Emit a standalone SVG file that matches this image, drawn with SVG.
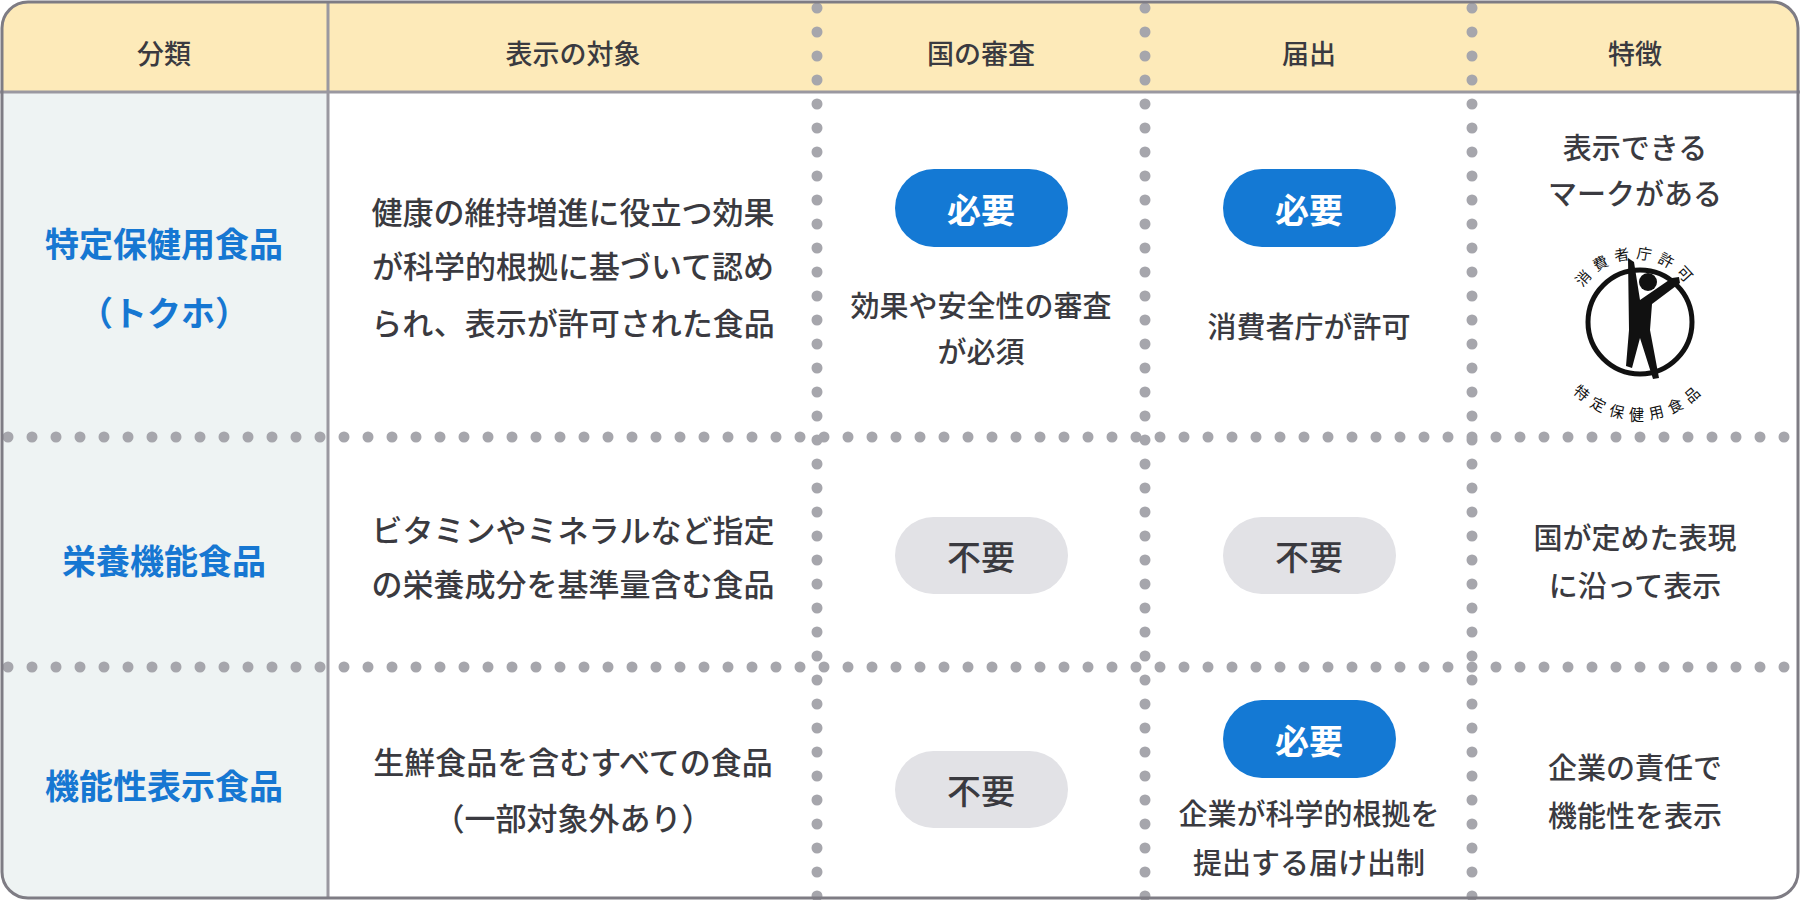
<svg xmlns="http://www.w3.org/2000/svg" width="1800" height="900" viewBox="0 0 1800 900">
<style>
text{font-family:"Noto Sans CJK JP","Noto Sans",sans-serif;text-anchor:middle;dominant-baseline:central;fill:#3a3a40}
.h{font-size:27px;font-weight:500}
.c{font-size:31px;font-weight:500}
.s{font-size:29px;font-weight:500}
.n{font-size:34px;font-weight:700;fill:#1677d2}
.pb{fill:#1479d4}.pg{fill:#e2e2e6}
.pt{font-size:34px;font-weight:700;fill:#fff}
.gt{font-size:34px;font-weight:500;fill:#3a3a40}
.dot{stroke:#a6a6ac;stroke-width:11;stroke-linecap:round;stroke-dasharray:0 24;fill:none}
.lg{font-size:15px;fill:#111;dominant-baseline:auto}
</style>
<defs>
<clipPath id="clip"><rect x="2" y="2" width="1796" height="896" rx="26"/></clipPath>
<path id="arcTop" d="M1573,322 A63,63 0 0 1 1699,322"/>
<path id="arcBot" d="M1562,330 A76,76 0 0 0 1714,330"/>
</defs>
<g clip-path="url(#clip)">
<rect x="0" y="0" width="1800" height="900" fill="#fff"/>
<rect x="0" y="0" width="1800" height="92" fill="#fdeab9"/>
<rect x="0" y="92" width="328" height="808" fill="#eef3f3"/>
</g>
<g id="connectors">
<line x1="0" y1="92" x2="1800" y2="92" stroke="#9a98a0" stroke-width="3"/>
<line x1="328" y1="2" x2="328" y2="898" stroke="#9a98a0" stroke-width="3"/>
<line class="dot" x1="817" y1="8" x2="817" y2="898"/>
<line class="dot" x1="1145" y1="8" x2="1145" y2="898"/>
<line class="dot" x1="1472" y1="8" x2="1472" y2="898"/>
<line class="dot" x1="8" y1="437" x2="1800" y2="437"/>
<line class="dot" x1="8" y1="667" x2="1800" y2="667"/>
</g>
<rect x="2" y="2" width="1796" height="896" rx="26" fill="none" stroke="#7e7c84" stroke-width="3"/>
<g id="header">
<text class="h" x="164" y="52">分類</text>
<text class="h" x="573" y="52">表示の対象</text>
<text class="h" x="981" y="52">国の審査</text>
<text class="h" x="1309" y="52">届出</text>
<text class="h" x="1635" y="52">特徴</text>
</g>
<g id="row1">
<text class="n" x="164" y="242">特定保健用食品</text>
<text class="n" x="164" y="311">（トクホ）</text>
<text class="c" x="573" y="210">健康の維持増進に役立つ効果</text>
<text class="c" x="573" y="264">が科学的根拠に基づいて認め</text>
<text class="c" x="573" y="321">られ、表示が許可された食品</text>
<rect class="pb" x="895" y="169" width="173" height="78" rx="39"/>
<text class="pt" x="981" y="208">必要</text>
<text class="s" x="981" y="304">効果や安全性の審査</text>
<text class="s" x="981" y="350">が必須</text>
<rect class="pb" x="1223" y="169" width="173" height="78" rx="39"/>
<text class="pt" x="1309" y="208">必要</text>
<text class="s" x="1309" y="325">消費者庁が許可</text>
<text class="s" x="1635" y="146">表示できる</text>
<text class="s" x="1635" y="192">マークがある</text>
<g id="logo">
<circle cx="1640" cy="322" r="52" fill="none" stroke="#111" stroke-width="5"/>
<text class="lg"><textPath href="#arcTop" startOffset="50%" text-anchor="middle" letter-spacing="6">消費者庁許可</textPath></text>
<text class="lg" style="dominant-baseline:hanging"><textPath href="#arcBot" startOffset="50%" text-anchor="middle" letter-spacing="3">特定保健用食品</textPath></text>
<circle cx="1648" cy="282" r="9" fill="#111"/>
<path d="M1628,258 L1634,262 L1640,300 L1672,278 L1679,277 L1680,283 L1652,304 L1650,330 L1659,378 L1653,379 L1640,338 L1632,368 L1626,366 L1629,330 Z" fill="#111"/>
</g>
</g>
<g id="row2">
<text class="n" x="164" y="559">栄養機能食品</text>
<text class="c" x="573" y="528">ビタミンやミネラルなど指定</text>
<text class="c" x="573" y="582">の栄養成分を基準量含む食品</text>
<rect class="pg" x="895" y="517" width="173" height="77" rx="38.5"/>
<text class="gt" x="981" y="555">不要</text>
<rect class="pg" x="1223" y="517" width="173" height="77" rx="38.5"/>
<text class="gt" x="1309" y="555">不要</text>
<text class="s" x="1635" y="536">国が定めた表現</text>
<text class="s" x="1635" y="584">に沿って表示</text>
</g>
<g id="row3">
<text class="n" x="164" y="784">機能性表示食品</text>
<text class="c" x="573" y="760">生鮮食品を含むすべての食品</text>
<text class="c" x="573" y="816">（一部対象外あり）</text>
<rect class="pg" x="895" y="751" width="173" height="77" rx="38.5"/>
<text class="gt" x="981" y="789">不要</text>
<rect class="pb" x="1223" y="700" width="173" height="78" rx="39"/>
<text class="pt" x="1309" y="739">必要</text>
<text class="s" x="1309" y="812">企業が科学的根拠を</text>
<text class="s" x="1309" y="861">提出する届け出制</text>
<text class="s" x="1635" y="766">企業の責任で</text>
<text class="s" x="1635" y="814">機能性を表示</text>
</g>
</svg>
